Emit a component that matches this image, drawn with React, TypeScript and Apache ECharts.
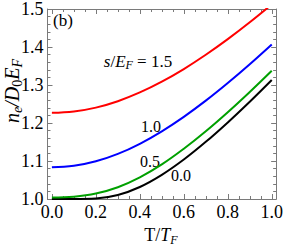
import React, { useEffect, useRef } from "react";
import * as echarts from "echarts";

// Reduced temperature T/T_F
const temps = [0, 0.1, 0.2, 0.3, 0.4, 0.5, 0.6, 0.7, 0.8, 0.9, 1.0];
// n_e / D0 E_F for each s/E_F
const curveS00 = [1.0, 1.0, 1.0013, 1.0105, 1.0316, 1.0635, 1.1038, 1.1504, 1.2016, 1.2561, 1.3133];
const curveS05 = [1.0042, 1.0062, 1.0143, 1.031, 1.057, 1.091, 1.1322, 1.1783, 1.2284, 1.2817, 1.3375];
const curveS10 = [1.0833, 1.0873, 1.0992, 1.1187, 1.1453, 1.1782, 1.2163, 1.2589, 1.3053, 1.3547, 1.4067];
const curveS15 = [1.2267, 1.2302, 1.2405, 1.2574, 1.2804, 1.3088, 1.342, 1.3795, 1.4206, 1.465, 1.5121];

const seriesNames = ["0.0", "0.5", "1.0", "1.5"];
const seriesColors = ["#000000", "#00a000", "#0000ff", "#ff0000"];

const xMajorTicks = [0, 0.2, 0.4, 0.6, 0.8, 1.0];
const xMinorTicks = [0.05, 0.1, 0.15, 0.25, 0.3, 0.35, 0.45, 0.5, 0.55, 0.65, 0.7, 0.75, 0.85, 0.9, 0.95];

const FONT = "Liberation Serif";
const FRAME = "#7a7a7a";

function xAxisDef(position: string, ticks: number[], len: number, showLine: boolean, showLabel: boolean) {
  return {
    type: "value",
    min: -0.02,
    max: 1.02,
    position,
    axisLine: { show: showLine, onZero: false, lineStyle: { color: FRAME, width: 1 } },
    axisTick: { show: true, inside: true, length: len, customValues: ticks, lineStyle: { color: FRAME, width: 1 } },
    axisLabel: {
      show: showLabel,
      customValues: ticks,
      formatter: (v: number) => v.toFixed(1),
      margin: 4,
      fontFamily: FONT,
      fontSize: 18,
      color: "#000",
    },
    splitLine: { show: false },
  };
}

function yAxisDef(position: string, showLabel: boolean) {
  return {
    type: "value",
    min: 1.0,
    max: 1.5,
    interval: 0.1,
    position,
    axisLine: { show: true, onZero: false, lineStyle: { color: FRAME, width: 1 } },
    axisTick: { show: true, inside: true, length: 5, lineStyle: { color: FRAME, width: 1 } },
    minorTick: { show: true, splitNumber: 5, length: 3, lineStyle: { color: FRAME, width: 1 } },
    axisLabel: {
      show: showLabel,
      formatter: (v: number) => v.toFixed(1),
      margin: 4,
      fontFamily: FONT,
      fontSize: 18,
      color: "#000",
    },
    splitLine: { show: false },
  };
}

const subRich = (size: number, subSize: number, lh: number) => ({
  r: { fontFamily: FONT, fontStyle: "normal", fontSize: size, lineHeight: lh, fill: "#000" },
  i: { fontFamily: FONT, fontStyle: "italic", fontSize: size, lineHeight: lh, fill: "#000" },
  is: {
    fontFamily: FONT,
    fontStyle: "italic",
    fontSize: subSize,
    lineHeight: subSize,
    verticalAlign: "bottom",
    fill: "#000",
  },
  rs: {
    fontFamily: FONT,
    fontStyle: "normal",
    fontSize: subSize,
    lineHeight: subSize,
    verticalAlign: "bottom",
    fill: "#000",
  },
});

export default function App() {
  const ref = useRef<HTMLDivElement>(null);

  useEffect(() => {
    if (!ref.current) return;
    const chart = echarts.init(ref.current, undefined, { renderer: "svg" });
    const curves = [curveS00, curveS05, curveS10, curveS15];
    const option = {
      animation: false,
      backgroundColor: "#ffffff",
      grid: { left: 47.5, top: 7, width: 230.5, height: 192, containLabel: false },
      xAxis: [
        xAxisDef("bottom", xMajorTicks, 5, true, true),
        xAxisDef("bottom", xMinorTicks, 3, false, false),
        xAxisDef("top", xMajorTicks, 5, true, false),
        xAxisDef("top", xMinorTicks, 3, false, false),
      ],
      yAxis: [yAxisDef("left", true), yAxisDef("right", false)],
      series: curves.map((c, k) => ({
        name: seriesNames[k],
        type: "line",
        xAxisIndex: 0,
        yAxisIndex: 0,
        data: temps.map((t, i) => [t, c[i]]),
        smooth: 0.4,
        showSymbol: false,
        symbol: "none",
        clip: true,
        lineStyle: { color: seriesColors[k], width: 2 },
        z: 3 + k,
      })),
      graphic: [
        {
          type: "text",
          x: 53,
          y: 20,
          style: { text: "(b)", fontFamily: FONT, fontSize: 17, fill: "#000", align: "left", verticalAlign: "middle" },
        },
        {
          type: "text",
          x: 138,
          y: 61,
          style: {
            text: "{i|s}{r|/}{i|E}{is|F}{r| = 1.5}",
            fontFamily: FONT,
            fontSize: 17,
            rich: subRich(17, 12, 20),
            align: "center",
            verticalAlign: "middle",
          },
        },
        {
          type: "text",
          x: 151,
          y: 126,
          style: { text: "1.0", fontFamily: FONT, fontSize: 16, fill: "#000", align: "center", verticalAlign: "middle" },
        },
        {
          type: "text",
          x: 150,
          y: 161,
          style: { text: "0.5", fontFamily: FONT, fontSize: 16, fill: "#000", align: "center", verticalAlign: "middle" },
        },
        {
          type: "text",
          x: 181,
          y: 175,
          style: { text: "0.0", fontFamily: FONT, fontSize: 16, fill: "#000", align: "center", verticalAlign: "middle" },
        },
        {
          type: "text",
          x: 161,
          y: 235,
          style: {
            text: "{r|T/}{i|T}{is|F}",
            fontFamily: FONT,
            fontSize: 18,
            rich: subRich(18, 12, 22),
            align: "center",
            verticalAlign: "middle",
          },
        },
        {
          type: "text",
          x: 12,
          y: 91,
          rotation: Math.PI / 2,
          style: {
            text: "{i|n}{is|e}{i|/D}{rs|0}{i|E}{is|F}",
            fontFamily: FONT,
            fontSize: 20,
            rich: subRich(20, 14, 24),
            align: "center",
            verticalAlign: "middle",
          },
        },
      ],
    };
    chart.setOption(option as any);
    return () => chart.dispose();
  }, []);

  return (
    <div
      ref={ref}
      style={{ position: "fixed", left: 0, top: 0, width: 286, height: 249, background: "#fff" }}
    />
  );
}
